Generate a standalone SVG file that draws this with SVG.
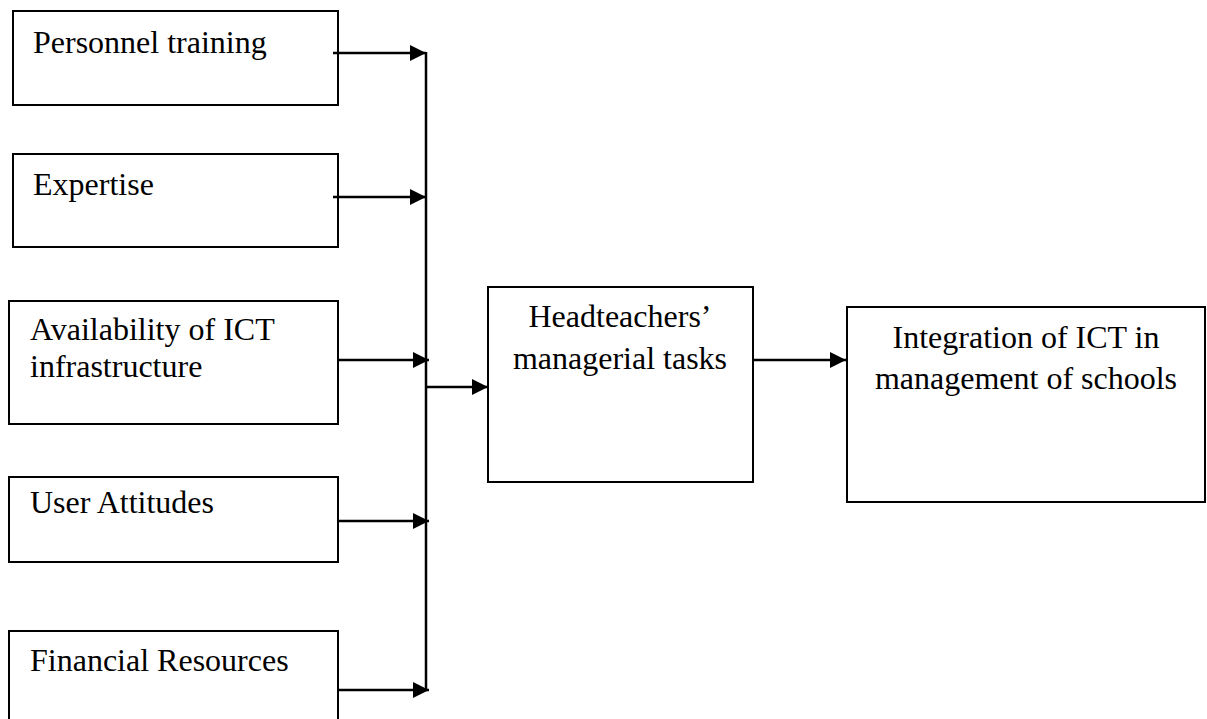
<svg xmlns="http://www.w3.org/2000/svg" width="1207" height="719" viewBox="0 0 1207 719">
<style>
.box{fill:#fff;stroke:#000;stroke-width:2}
.lbl{font-family:"Liberation Serif","Times New Roman",serif;font-size:32px;fill:#000}
.mid{text-anchor:middle}
.con{stroke:#000;stroke-width:2.5;fill:none}
</style>
<defs>
<marker id="ah" markerUnits="userSpaceOnUse" markerWidth="18" markerHeight="18" refX="16" refY="8" orient="auto">
<path d="M0,0 L16,8 L0,16 z" fill="#000"/>
</marker>
</defs>
<rect width="1207" height="719" fill="#fff"/>
<g id="n-personnel">
<rect class="box" x="13" y="11" width="325" height="94"/>
<text class="lbl" x="33" y="53">Personnel training</text>
</g>
<g id="n-expertise">
<rect class="box" x="13" y="154" width="325" height="93"/>
<text class="lbl" x="33" y="195">Expertise</text>
</g>
<g id="n-infra">
<rect class="box" x="9" y="301" width="329" height="123"/>
<text class="lbl" x="30" y="340">Availability of ICT</text>
<text class="lbl" x="30" y="377">infrastructure</text>
</g>
<g id="n-attitudes">
<rect class="box" x="9" y="477" width="329" height="85"/>
<text class="lbl" x="30" y="513">User Attitudes</text>
</g>
<g id="n-financial">
<path class="box" d="M9,722 L9,631 L338,631 L338,722"/>
<text class="lbl" x="30" y="671">Financial Resources</text>
</g>
<g id="n-headteachers">
<rect class="box" x="488" y="287" width="265" height="195"/>
<text class="lbl mid" x="620" y="327">Headteachers’</text>
<text class="lbl mid" x="620" y="369">managerial tasks</text>
</g>
<g id="n-integration">
<rect class="box" x="847" y="307" width="358" height="195"/>
<text class="lbl mid" x="1026" y="348">Integration of ICT in</text>
<text class="lbl mid" x="1026" y="389">management of schools</text>
</g>
<g id="connectors">
<line class="con" x1="426" y1="52" x2="426" y2="691"/>
<line class="con" x1="333" y1="53" x2="426" y2="53" marker-end="url(#ah)"/>
<line class="con" x1="333" y1="197" x2="426" y2="197" marker-end="url(#ah)"/>
<line class="con" x1="338" y1="360" x2="429" y2="360" marker-end="url(#ah)"/>
<line class="con" x1="338" y1="521" x2="429" y2="521" marker-end="url(#ah)"/>
<line class="con" x1="338" y1="690" x2="429" y2="690" marker-end="url(#ah)"/>
<line class="con" x1="426" y1="387" x2="488" y2="387" marker-end="url(#ah)"/>
<line class="con" x1="753" y1="360" x2="846" y2="360" marker-end="url(#ah)"/>
</g>
</svg>
